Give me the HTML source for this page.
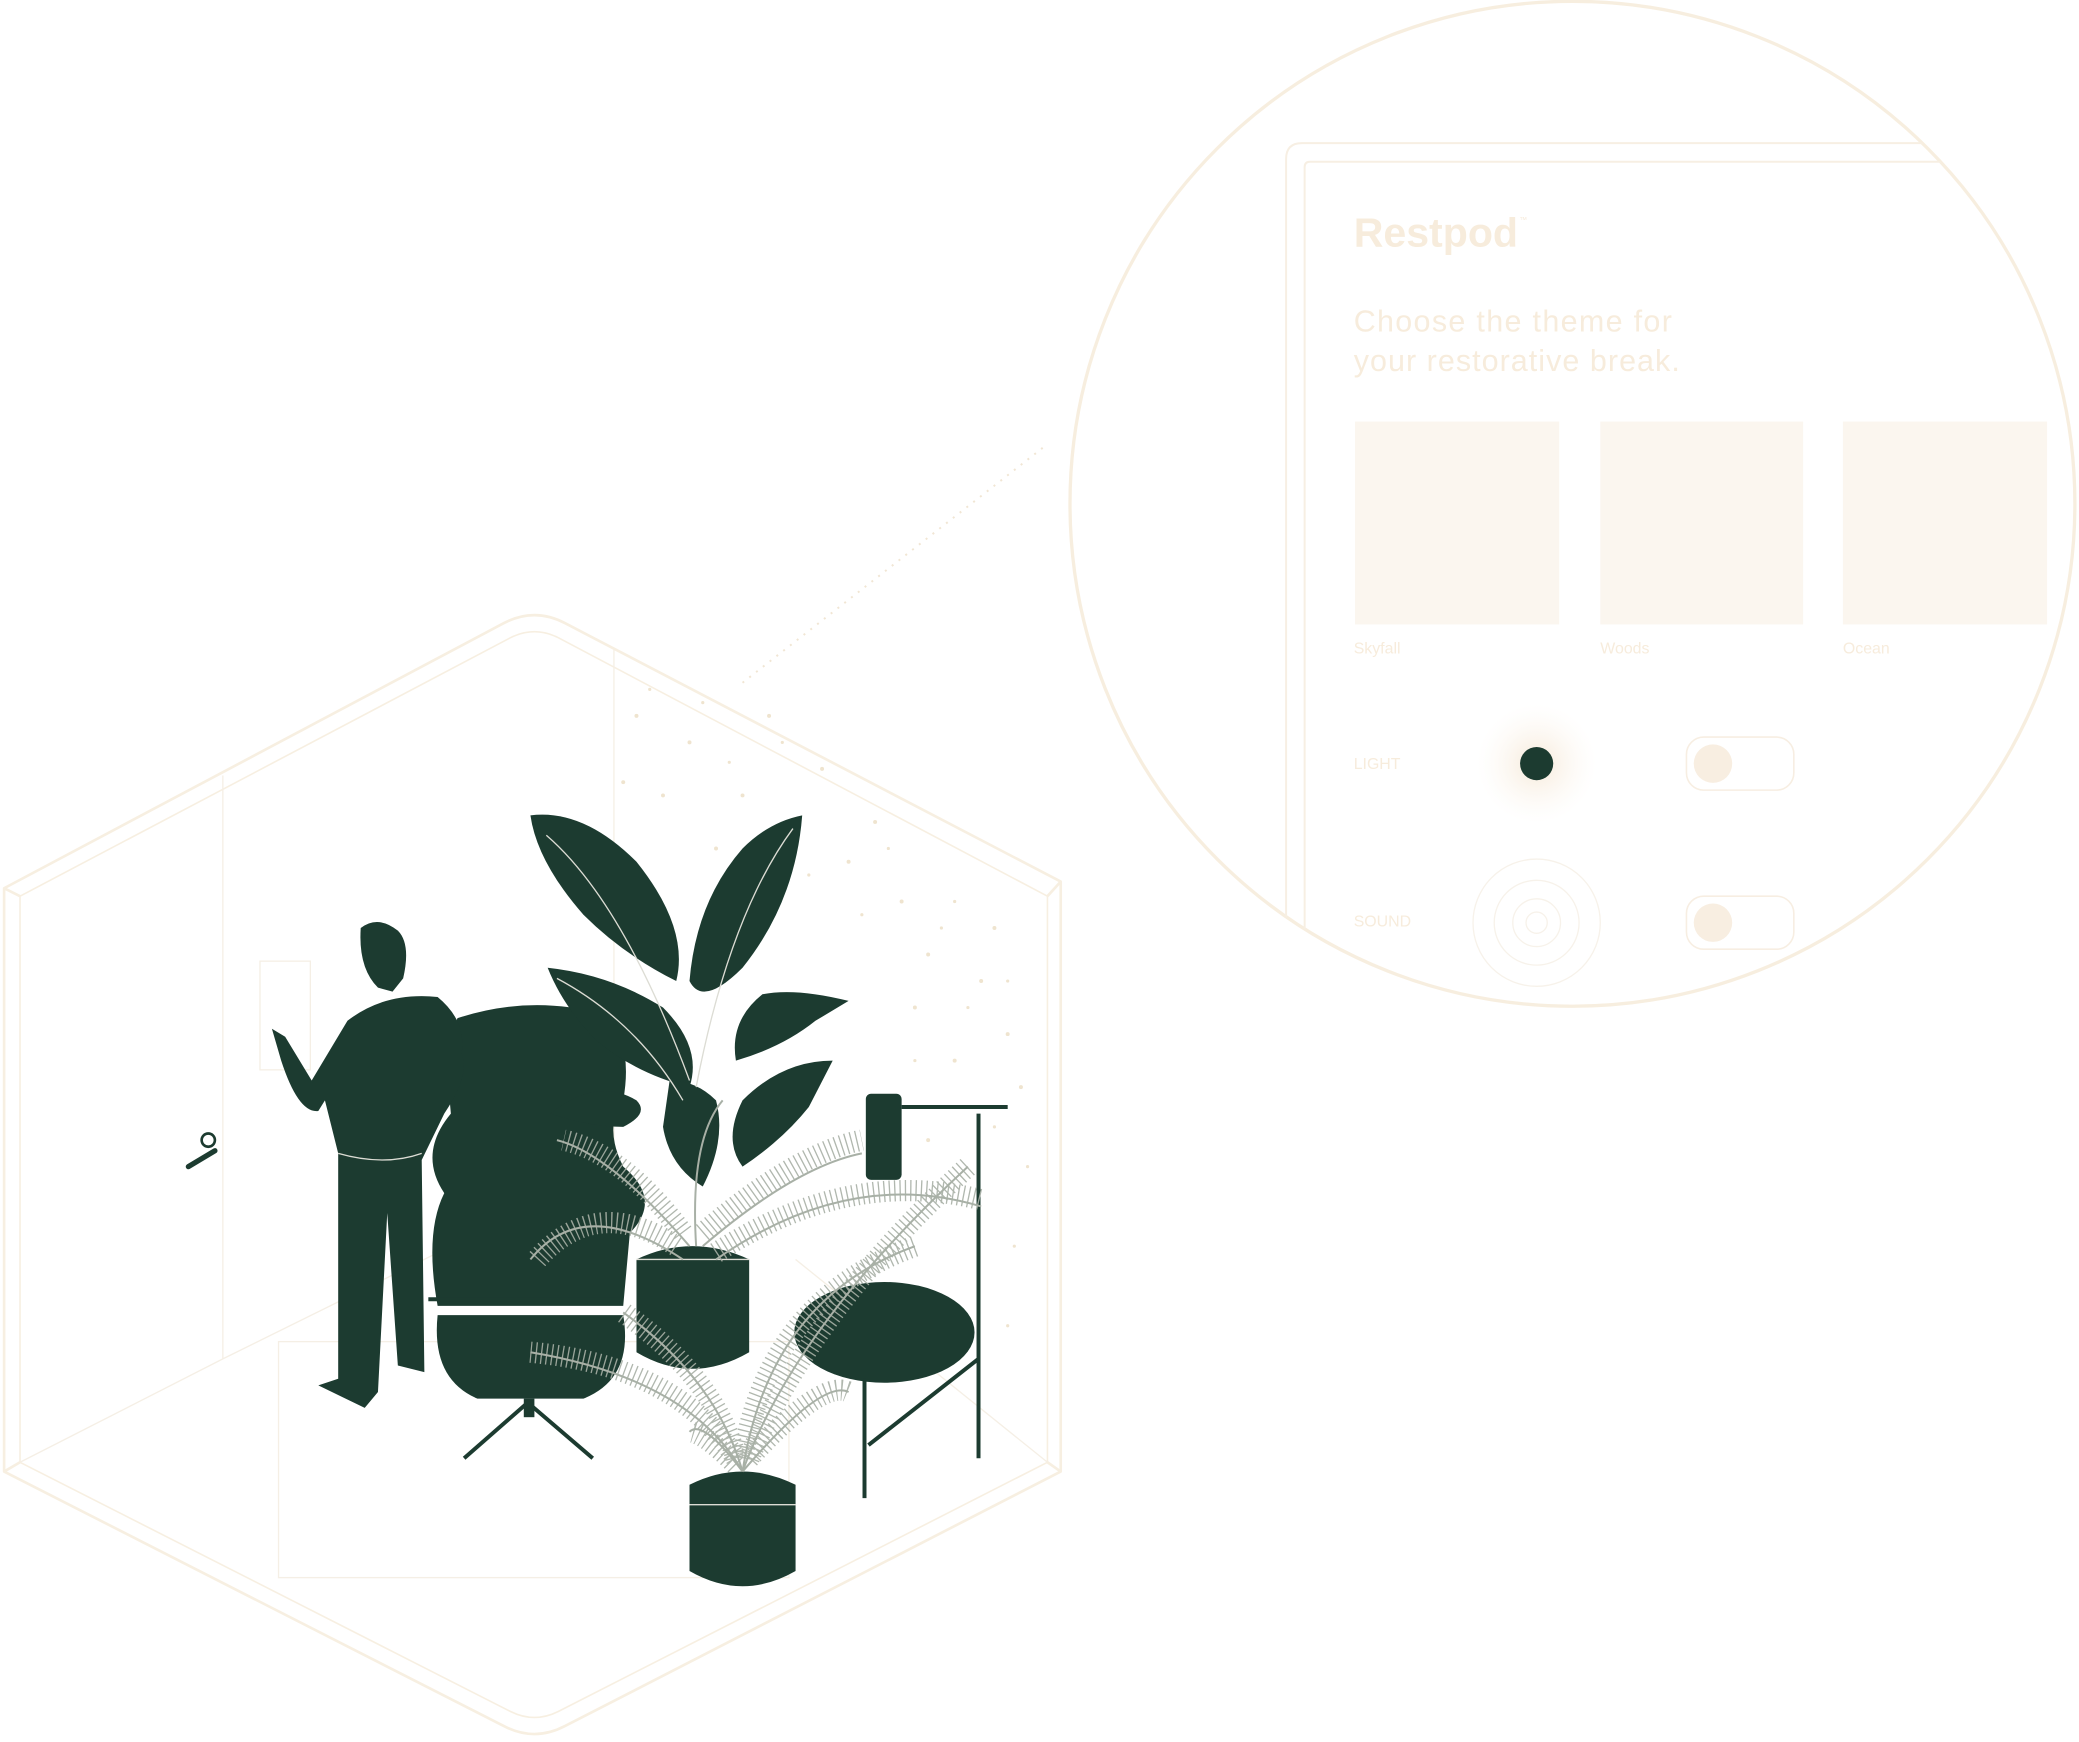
<!DOCTYPE html>
<html><head><meta charset="utf-8"><style>
html,body{margin:0;padding:0;background:#fff;}
svg{display:block;}
text{font-family:"Liberation Sans",sans-serif;}
</style></head><body>
<svg width="2079" height="1742" viewBox="0 0 1568 1314" xmlns="http://www.w3.org/2000/svg">
<defs>
<clipPath id="cc"><circle cx="1186" cy="380" r="379"/></clipPath>
<radialGradient id="glow"><stop offset="0" stop-color="#f6e9d8" stop-opacity="1"/><stop offset="1" stop-color="#fdf8f2" stop-opacity="0"/></radialGradient>
</defs>
<line x1="560" y1="515" x2="790" y2="335" stroke="#f1e6d4" stroke-width="1.5" stroke-dasharray="1.5 5"/>
<circle cx="1186" cy="380" r="379" fill="#fff" stroke="#f7eedf" stroke-width="2.5"/>
<g clip-path="url(#cc)">
<path d="M970 760 V120 Q970 108 982 108 H1600" fill="none" stroke="#f7efe3" stroke-width="1.5"/>
<path d="M984 760 V126 Q984 122 988 122 H1600" fill="none" stroke="#f7efe3" stroke-width="1.5"/>
<text x="1021" y="186" font-size="31" font-weight="bold" fill="#f7ecdc">Restpod</text>
<text x="1146" y="168" font-size="6" fill="#f7ecdc">™</text>
<text x="1021" y="250" font-size="23" fill="#f7ecdc" textLength="240">Choose the theme for</text>
<text x="1021" y="280" font-size="23" fill="#f7ecdc" textLength="246">your restorative break.</text>
<rect x="1022" y="318" width="154" height="153" fill="#fbf6ef"/>
<rect x="1207" y="318" width="153" height="153" fill="#fbf6ef"/>
<rect x="1390" y="318" width="154" height="153" fill="#fbf6ef"/>
<text x="1021" y="493" font-size="12" fill="#f7ecdc">Skyfall</text>
<text x="1207" y="493" font-size="12" fill="#f7ecdc">Woods</text>
<text x="1390" y="493" font-size="12" fill="#f7ecdc">Ocean</text>
<text x="1021" y="580" font-size="12" fill="#f7ecdc">LIGHT</text>
<circle cx="1159" cy="576" r="45" fill="url(#glow)"/>
<circle cx="1159" cy="576" r="12.5" fill="#1c3b30"/>
<rect x="1272" y="556" width="81" height="40" rx="13" fill="none" stroke="#f7eee2" stroke-width="1.2"/>
<circle cx="1292" cy="576" r="14.5" fill="#f8eee1"/>
<text x="1021" y="699" font-size="12" fill="#f7ecdc">SOUND</text>
<g fill="none" stroke="#f7f2ea" stroke-width="1"><circle cx="1159" cy="696" r="48"/><circle cx="1159" cy="696" r="32"/><circle cx="1159" cy="696" r="18"/><circle cx="1159" cy="696" r="8"/></g>
<rect x="1272" y="676" width="81" height="40" rx="13" fill="none" stroke="#f7eee2" stroke-width="1.2"/>
<circle cx="1292" cy="696" r="14.5" fill="#f8eee1"/>
</g>
<g fill="none" stroke="#f7efe1" stroke-width="2" stroke-linejoin="round">
<path d="M3 670 L380 470 Q403 458 426 470 L800 665 V1110 L426 1302 Q403 1314 380 1302 L3 1110 Z"/>
<path d="M15 676 L385 481 Q403 472 421 481 L790 676 V1103 L421 1291 Q403 1300 385 1291 L15 1103 Z" stroke-width="1.2"/>
<line x1="3" y1="670" x2="15" y2="676"/><line x1="800" y1="665" x2="790" y2="676"/>
<line x1="3" y1="1110" x2="15" y2="1103"/><line x1="800" y1="1110" x2="790" y2="1103"/>
</g>
<g fill="none" stroke="#f5efe5" stroke-width="1">
<line x1="463" y1="490" x2="463" y2="880"/>
<line x1="168" y1="585" x2="168" y2="1025"/>
<line x1="168" y1="1025" x2="15" y2="1103"/>
<line x1="168" y1="1025" x2="330" y2="945"/>
<line x1="600" y1="950" x2="790" y2="1103"/>
<rect x="210" y="1012" width="385" height="178"/>
<rect x="196" y="725" width="38" height="82"/>
</g>
<g fill="#efe4cf">
<circle cx="480" cy="540" r="1.5"/><circle cx="520" cy="560" r="1.5"/><circle cx="560" cy="600" r="1.5"/><circle cx="600" cy="620" r="1.5"/><circle cx="640" cy="650" r="1.5"/><circle cx="680" cy="680" r="1.5"/><circle cx="700" cy="720" r="1.5"/><circle cx="740" cy="740" r="1.5"/><circle cx="760" cy="780" r="1.5"/><circle cx="720" cy="800" r="1.5"/><circle cx="620" cy="580" r="1.5"/><circle cx="660" cy="620" r="1.5"/><circle cx="500" cy="600" r="1.5"/><circle cx="540" cy="640" r="1.5"/><circle cx="690" cy="760" r="1.5"/><circle cx="750" cy="700" r="1.5"/><circle cx="770" cy="820" r="1.5"/><circle cx="700" cy="860" r="1.5"/><circle cx="580" cy="540" r="1.5"/><circle cx="470" cy="590" r="1.5"/>
<circle cx="490" cy="520" r="1.2"/><circle cx="530" cy="530" r="1.2"/><circle cx="550" cy="575" r="1.2"/><circle cx="590" cy="560" r="1.2"/><circle cx="610" cy="660" r="1.2"/><circle cx="650" cy="690" r="1.2"/><circle cx="670" cy="640" r="1.2"/><circle cx="720" cy="680" r="1.2"/><circle cx="730" cy="760" r="1.2"/><circle cx="760" cy="740" r="1.2"/><circle cx="750" cy="850" r="1.2"/><circle cx="775" cy="880" r="1.2"/><circle cx="765" cy="940" r="1.2"/><circle cx="760" cy="1000" r="1.2"/><circle cx="710" cy="700" r="1.2"/><circle cx="690" cy="800" r="1.2"/>
</g>
<g fill="#1c3b30">
<path d="M142 880 L162 868" stroke="#1c3b30" stroke-width="4" stroke-linecap="round"/>
<circle cx="157" cy="860" r="5" fill="none" stroke="#1c3b30" stroke-width="2"/>
<path d="M345 768 Q400 750 455 765 Q478 785 470 830 Q455 850 470 880 Q500 905 475 930 L470 985 L330 985 Q320 930 335 900 Q315 870 340 840 Q335 790 345 768Z"/>
<path d="M330 992 L470 992 Q478 1040 440 1055 L360 1055 Q325 1040 330 992Z"/>
<path d="M398 1058 L350 1100 M398 1058 L447 1100" stroke="#1c3b30" stroke-width="3"/>
<rect x="395" y="1055" width="8" height="14"/>
<line x1="323" y1="980" x2="470" y2="980" stroke="#1c3b30" stroke-width="3"/>
<path d="M272 700 Q285 690 300 702 Q310 712 304 738 L296 748 L285 745 Q270 730 272 700Z"/>
<path d="M262 770 Q290 748 330 752 Q352 770 348 795 Q355 810 335 840 L318 875 L320 1035 L300 1030 L292 915 L285 1050 L275 1062 L240 1045 L255 1040 L255 870 L245 830 L240 838 Q225 840 212 800 L205 776 L215 782 L235 815 Z"/>
<path d="M400 615 Q440 610 480 650 Q520 700 510 740 Q470 720 440 690 Q405 650 400 615Z"/>
<path d="M605 615 Q600 680 560 730 Q530 760 520 740 Q525 680 560 640 Q580 620 605 615Z"/>
<path d="M413 730 Q460 735 500 760 Q530 790 520 820 Q480 810 450 785 Q425 760 413 730Z"/>
<path d="M640 755 Q600 745 575 750 Q550 770 555 800 Q590 790 615 770Z"/>
<path d="M628 800 Q590 800 560 830 Q545 860 560 880 Q590 860 610 835Z"/>
<path d="M505 815 Q525 815 540 830 Q548 860 530 895 Q505 880 500 850Z"/>
<path d="M415 840 Q450 812 480 830 Q490 840 470 850 Q445 850 415 840Z"/>
<path d="M480 950 Q522 930 565 950 L565 1020 Q522 1045 480 1020Z"/>
<path d="M520 1120 Q560 1100 600 1120 L600 1185 Q560 1208 520 1185Z"/>
<rect x="653" y="825" width="27" height="65" rx="4"/>
<ellipse cx="667" cy="1005" rx="68" ry="38"/>
<g stroke="#1c3b30" stroke-width="3"><line x1="652" y1="1040" x2="652" y2="1130"/><line x1="738" y1="1025" x2="655" y2="1090"/><line x1="738" y1="840" x2="738" y2="1100"/><line x1="680" y1="835" x2="760" y2="835"/></g>
</g>
<g fill="none" stroke="#dcdcd4" stroke-width="1">
<path d="M412 630 Q470 680 520 815"/><path d="M598 625 Q550 690 525 820"/><path d="M420 738 Q480 770 515 830"/>
<line x1="480" y1="950" x2="565" y2="950"/><line x1="520" y1="1135" x2="600" y2="1135"/>
<path d="M255 870 Q290 880 318 870"/>
</g>
<!-- palm fronds: leaflets via dashed wide strokes -->
<g fill="none" stroke="#a8b0a6" stroke-width="16" stroke-dasharray="1 3" opacity="0.9">
<path d="M515 930 Q470 870 425 860"/><path d="M530 930 Q600 870 650 860"/><path d="M510 940 Q450 900 405 950"/><path d="M540 945 Q640 880 740 905"/>
<path d="M555 1100 Q540 1040 470 990"/><path d="M560 1100 Q580 980 690 940"/><path d="M555 1100 Q510 1030 400 1020"/><path d="M565 1100 Q610 990 730 880"/><path d="M555 1105 Q530 1080 520 1080"/><path d="M565 1100 Q620 1040 640 1050"/>
</g>
<g fill="none" stroke="#a8b0a6" stroke-width="1.5">
<path d="M520 940 Q460 870 420 860"/><path d="M525 940 Q520 860 545 830"/><path d="M530 940 Q600 880 650 870"/><path d="M515 950 Q440 900 400 950"/><path d="M540 950 Q640 880 740 910"/>
<path d="M560 1110 Q540 1040 470 990"/><path d="M560 1110 Q580 980 690 940"/><path d="M560 1110 Q520 1040 400 1020"/><path d="M560 1110 Q600 1000 730 880"/><path d="M560 1110 Q530 1070 520 1080"/><path d="M560 1110 Q620 1040 640 1050"/>
</g>
</svg>
</body></html>
